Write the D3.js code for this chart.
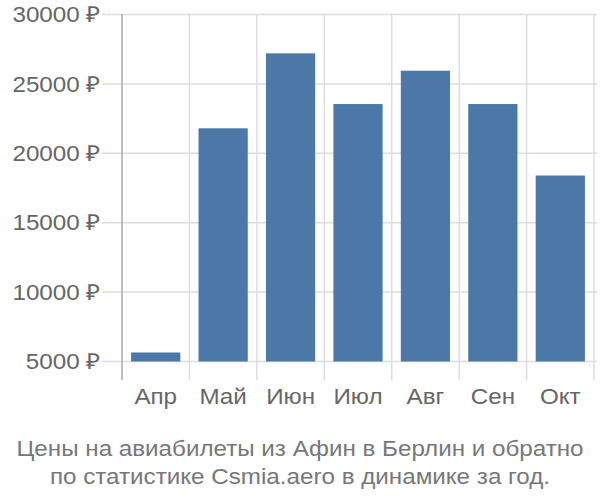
<!DOCTYPE html>
<html><head><meta charset="utf-8">
<script src="https://cdn.jsdelivr.net/npm/d3@7"></script>
<style>body{margin:0;background:#fff}</style>
</head><body>
<svg id="c" width="600" height="500"></svg>
<script>
const categories = ["Апр","Май","Июн","Июл","Авг","Сен","Окт"];
const values = [5650, 21800, 27200, 23550, 25950, 23550, 18400];
const yTicks = [5000,10000,15000,20000,25000,30000];
const titleLines = ["Цены на авиабилеты из Афин в Берлин и обратно","по статистике Csmia.aero в динамике за год."];

const svg = d3.select("#c");
const font = "'Liberation Sans', Arial, sans-serif";
const sx = 1.1;
const x = d3.scaleBand().domain(categories).range([122, 594]).paddingInner(0.27).paddingOuter(0.135);
const xb = d3.scaleBand().domain(categories).range([122, 594]);
const y = d3.scaleLinear().domain([5000, 30000]).range([361.5, 14.5]);

// horizontal grid
svg.append("g").selectAll("line").data(yTicks).join("line")
  .attr("x1", 102).attr("x2", 597).attr("y1", d=>y(d)).attr("y2", d=>y(d))
  .attr("stroke", "#dddddd").attr("stroke-width", 1.5);
// vertical grid
svg.append("g").selectAll("line").data(categories).join("line")
  .attr("x1", d=>xb(d)+xb.bandwidth()).attr("x2", d=>xb(d)+xb.bandwidth())
  .attr("y1", 14).attr("y2", 380)
  .attr("stroke", "#dddddd").attr("stroke-width", 1.5);
// bars
svg.append("g").selectAll("rect").data(values).join("rect")
  .attr("x", (d,i)=>x(categories[i])).attr("width", x.bandwidth())
  .attr("y", d=>y(d)).attr("height", d=>y(5000)-y(d))
  .attr("fill", "#4c78a8");
// left axis line
svg.append("line").attr("x1",122).attr("x2",122).attr("y1",14).attr("y2",380)
  .attr("stroke","#aaaaaa").attr("stroke-width",1.5);
// y labels
svg.append("g").selectAll("text").data(yTicks).join("text")
  .attr("transform", d=>`translate(100,${y(d)}) scale(${sx},1)`)
  .attr("dy","0.35em").attr("text-anchor","end")
  .attr("font-family", font).attr("font-size", 22).attr("fill","#666")
  .text(d=>d+" ₽");
// x labels
svg.append("g").selectAll("text").data(categories).join("text")
  .attr("transform", d=>`translate(${xb(d)+xb.bandwidth()/2},404) scale(${sx},1)`)
  .attr("text-anchor","middle")
  .attr("font-family", font).attr("font-size", 22).attr("fill","#666")
  .text(d=>d);
// title
svg.append("g").selectAll("text").data(titleLines).join("text")
  .attr("transform", (d,i)=>`translate(300,${456+i*28}) scale(${sx},1)`)
  .attr("text-anchor","middle")
  .attr("font-family", font).attr("font-size", 22).attr("fill","#777")
  .text(d=>d);
</script>
</body></html>
